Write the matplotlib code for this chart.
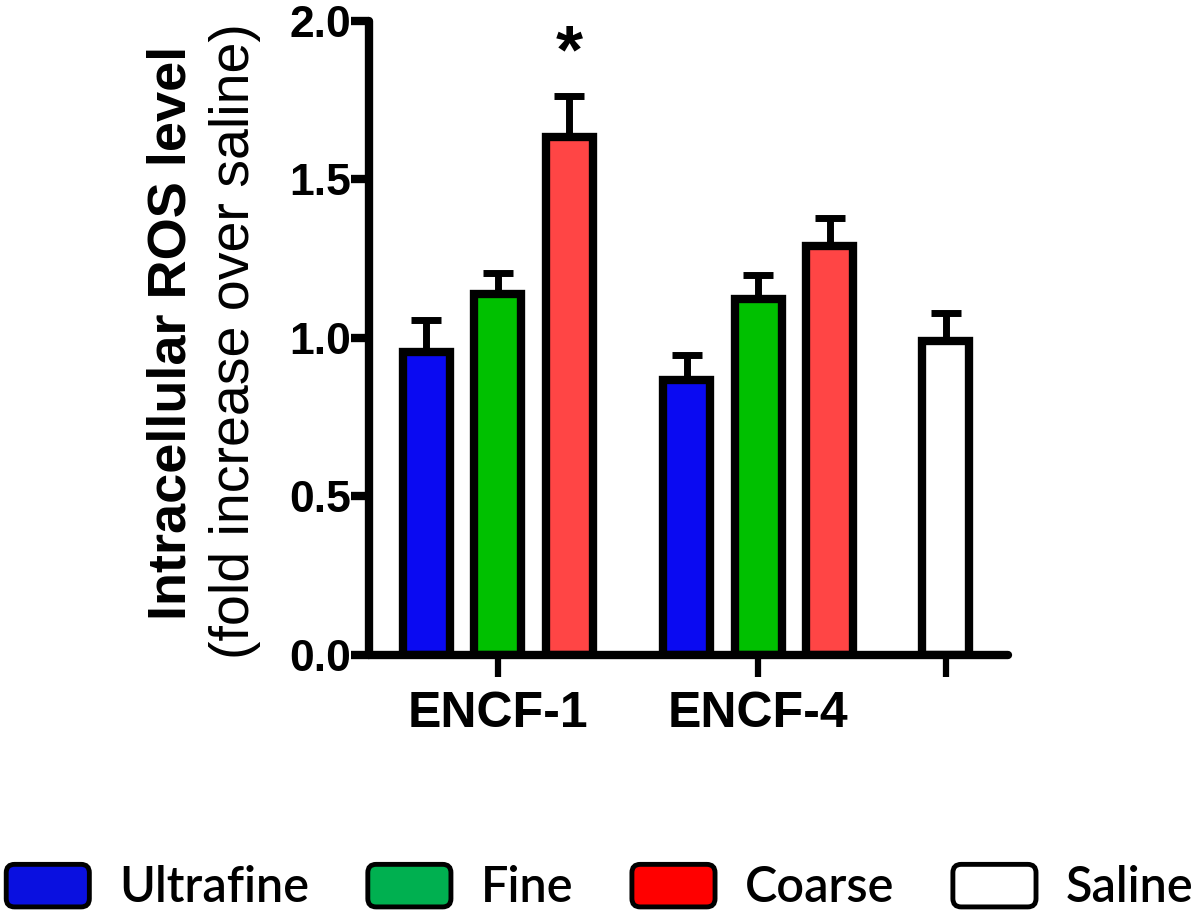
import matplotlib
matplotlib.use('Agg')
import matplotlib.pyplot as plt
from matplotlib.patches import FancyBboxPatch, Patch
from matplotlib.legend_handler import HandlerPatch

# data
groups = ['ENCF-1', 'ENCF-4']
sizes = ['Ultrafine', 'Fine', 'Coarse']
encf1_mean = [0.955, 1.139, 1.633]
encf1_err = [0.100, 0.067, 0.130]
encf4_mean = [0.867, 1.123, 1.290]
encf4_err = [0.079, 0.076, 0.089]
saline_mean = 0.991
saline_err = 0.088

bar_colors = ['#0A0AF2', '#00C000', '#FF4545']
legend_colors = ['#0A10E0', '#00B050', '#FF0000', '#FFFFFF']
legend_labels = ['Ultrafine', 'Fine', 'Coarse', 'Saline']


class RoundBoxHandler(HandlerPatch):
    def create_artists(self, legend, orig_handle, xdescent, ydescent,
                       width, height, fontsize, trans):
        p = FancyBboxPatch((-xdescent, -ydescent), width, height,
                           boxstyle='round,pad=0,rounding_size=6',
                           facecolor=orig_handle.get_facecolor(),
                           edgecolor='black', linewidth=3.5,
                           transform=trans)
        return [p]


def main():
    fig = plt.figure(figsize=(12, 9.21), dpi=100)
    ax = fig.add_axes([0.3075, 0.2888, 0.5325, 0.6887])

    width = 0.66
    lw = 6
    err_kw = dict(fmt='none', ecolor='black', elinewidth=5, capsize=10.5,
                  capthick=5, zorder=1)

    e1_x = [0, 1, 2]
    e4_x = [3.64, 4.64, 5.64]
    sal_x = 7.26

    for xs, means, errs in [(e1_x, encf1_mean, encf1_err),
                            (e4_x, encf4_mean, encf4_err)]:
        ax.errorbar(xs, means, yerr=[[0] * 3, errs], **err_kw)
        ax.bar(xs, means, width, color=bar_colors, edgecolor='black',
               linewidth=lw, zorder=2)
    ax.errorbar([sal_x], [saline_mean], yerr=[[0], [saline_err]], **err_kw)
    ax.bar([sal_x], [saline_mean], width, color='white', edgecolor='black',
           linewidth=lw, zorder=2)

    # significance marker
    ax.text(e1_x[2], encf1_mean[2] + encf1_err[2] + 0.03, '*',
            ha='center', va='bottom', fontsize=50, fontweight='bold',
            family='Liberation Sans')

    ax.set_xlim(-0.8, 8.13)
    ax.set_ylim(0, 2.0)
    ax.set_yticks([0.0, 0.5, 1.0, 1.5, 2.0])
    ax.set_yticklabels(['0.0', '0.5', '1.0', '1.5', '2.0'],
                       fontsize=32, fontweight='bold', family='Liberation Sans')
    ax.set_xticks([e1_x[1], e4_x[1], sal_x])
    ax.set_xticklabels(groups + [''], fontsize=36, fontweight='bold',
                       family='Liberation Sans')
    ax.tick_params(axis='y', length=13, width=6, pad=0)
    ax.tick_params(axis='x', length=16, width=4.5, pad=10)

    for side in ['top', 'right']:
        ax.spines[side].set_visible(False)
    for side in ['left', 'bottom']:
        ax.spines[side].set_linewidth(6)
        ax.spines[side].set_capstyle('round')

    fig.text(0.143, 0.639, 'Intracellular ROS level', rotation=90,
             ha='center', va='center', fontsize=39, fontweight='bold',
             family='Liberation Sans')
    fig.text(0.196, 0.630, '(fold increase over saline)', rotation=90,
             ha='center', va='center', fontsize=40,
             family='Liberation Sans')

    handles = [Patch(facecolor=c, edgecolor='black') for c in legend_colors]
    fig.legend(handles, legend_labels, loc='center',
               bbox_to_anchor=(0.5, 0.036), ncol=4, frameon=False,
               handlelength=1.71, handleheight=0.97, handletextpad=0.62,
               columnspacing=1.2, borderpad=0, borderaxespad=0,
               prop={'family': 'Lato', 'size': 35, 'weight': 'semibold'},
               handler_map={Patch: RoundBoxHandler()})

    fig.savefig('out.png', dpi=100)


if __name__ == '__main__':
    main()
